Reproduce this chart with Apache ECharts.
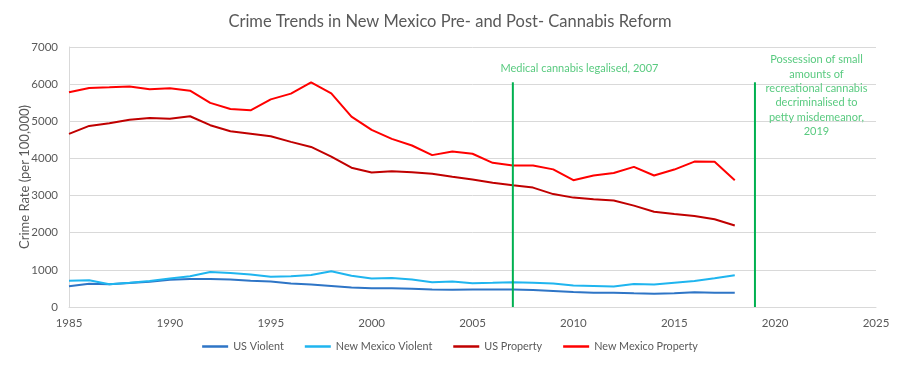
<!DOCTYPE html>
<html>
<head>
<meta charset="utf-8">
<script src="https://cdn.jsdelivr.net/npm/echarts@6/dist/echarts.min.js"></script>
<style>
html,body{margin:0;padding:0;background:#fff;}
#chart{width:900px;height:366px;}
</style>
</head>
<body>
<div id="chart"></div>
<script>
var years = [1985,1986,1987,1988,1989,1990,1991,1992,1993,1994,1995,1996,1997,1998,1999,2000,2001,2002,2003,2004,2005,2006,2007,2008,2009,2010,2011,2012,2013,2014,2015,2016,2017,2018];
var usViolent = [557,625,611,645,680,732,756,756,740,705,684,632,604,567,522,505,504,490,472,465,468,470,468,455,431,404,387,386,368,355,370,395,386,385];
var nmViolent = [705,718,610,650,700,765,828,945,918,875,815,828,862,960,840,765,780,740,668,685,640,650,665,650,632,580,566,550,620,605,656,700,772,855];
var usProperty = [4660,4875,4950,5040,5090,5070,5135,4895,4730,4665,4595,4445,4310,4050,3750,3620,3655,3625,3585,3505,3430,3345,3278,3215,3040,2945,2900,2865,2730,2565,2505,2450,2362,2195];
var nmProperty = [5780,5898,5915,5935,5860,5890,5825,5496,5330,5295,5590,5745,6045,5752,5127,4768,4527,4348,4089,4187,4125,3882,3808,3808,3705,3415,3540,3608,3772,3540,3700,3915,3908,3415];
var yTicks = [0,1000,2000,3000,4000,5000,6000,7000];
var xTicks = [1985,1990,1995,2000,2005,2010,2015,2020,2025];
var reformYears = [2007, 2019];
var reformLineTop = 6050;
var annotationTexts = ['Medical cannabis legalised, 2007', 'Possession of small\namounts of\nrecreational cannabis\ndecriminalised to\npetty misdemeanor,\n2019'];
var annotationAnchors = [[2010.3, 6430], [2022.05, 5690]];

function pairs(xs, ys){ return xs.map(function(x,i){ return [x, ys[i]]; }); }

var FONT = 'Lato';
var GREY = '#595959';
var GREEN = '#00B050';

var chart = echarts.init(document.getElementById('chart'), null, {renderer:'canvas'});
var lineSeries = function(name, data, color){
  return {name:name, type:'line', data:pairs(years,data), symbol:'none', smooth:false,
    lineStyle:{color:color, width:2}, itemStyle:{color:color}, z:3};
};
var series = [
  lineSeries('US Violent', usViolent, '#2E75C6'),
  lineSeries('New Mexico Violent', nmViolent, '#1FB5EF'),
  lineSeries('US Property', usProperty, '#C00000'),
  lineSeries('New Mexico Property', nmProperty, '#FF0000')
];
reformYears.forEach(function(y, i){
  series.push({name:'reform'+i, type:'line', data:[[y,0],[y,reformLineTop]], symbol:'none',
    lineStyle:{color:GREEN, width:2}, z:4, silent:true});
});
series.push({name:'annotations', type:'scatter', symbolSize:0, silent:true,
  data: annotationAnchors.map(function(a,i){ return {value:a, label:{formatter:annotationTexts[i]}}; }),
  label:{show:true, position:'inside', color:'#2EBD5F', fontFamily:FONT, fontSize:11, lineHeight:14.3, align:'center', verticalAlign:'middle'}
});

chart.setOption({
  backgroundColor:'#ffffff',
  animation:false,
  title:{text:'Crime Trends in New Mexico Pre- and Post- Cannabis Reform', left:'center', top:8,
    textStyle:{fontFamily:FONT, fontSize:16.5, fontWeight:'normal', color:GREY}},
  grid:{left:69, right:24, top:47, bottom:59, containLabel:false},
  legend:{data:['US Violent','New Mexico Violent','US Property','New Mexico Property'], bottom:9, left:'center',
    icon:'rect', itemWidth:26, itemHeight:2.5, itemGap:21,
    textStyle:{fontFamily:FONT, fontSize:10.8, color:GREY}},
  xAxis:{type:'value', min:xTicks[0], max:xTicks[xTicks.length-1], interval:5,
    axisLine:{show:true, lineStyle:{color:'#D9D9D9', width:1}}, axisTick:{show:false},
    splitLine:{show:false},
    axisLabel:{color:GREY, fontFamily:FONT, fontSize:11.5, margin:10, formatter:function(v){return String(v);}}},
  yAxis:{type:'value', min:yTicks[0], max:yTicks[yTicks.length-1], interval:1000,
    name:'Crime Rate (per 100,000)', nameLocation:'middle', nameGap:38, nameMoveOverlap:false,
    nameTextStyle:{color:GREY, fontFamily:FONT, fontSize:13},
    axisLine:{show:true, lineStyle:{color:'#D9D9D9', width:1}}, axisTick:{show:false},
    splitLine:{show:true, lineStyle:{color:'#D9D9D9', width:1}},
    axisLabel:{color:GREY, fontFamily:FONT, fontSize:11.5, margin:11, formatter:function(v){return String(v);}}},
  series:series
});
</script>
</body>
</html>
